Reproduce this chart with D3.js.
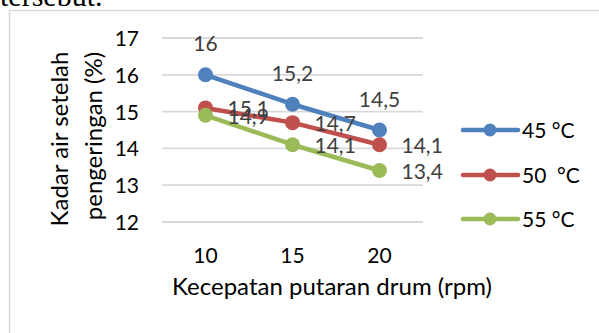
<!DOCTYPE html>
<html>
<head>
<meta charset="utf-8">
<script src="https://cdn.jsdelivr.net/npm/d3@7"></script>
<style>
  html, body { margin: 0; padding: 0; background: #fff; }
  svg { display: block; }
</style>
</head>
<body>
<svg id="chart" width="599" height="333"></svg>
<script>
// Drum speed categories (rpm) and moisture content series (%)
const categories = ["10", "15", "20"];
const seriesNames = ["45 °C", "50  °C", "55 °C"];
const values45 = [16, 15.2, 14.5];
const values50 = [15.1, 14.7, 14.1];
const values55 = [14.9, 14.1, 13.4];
const yTicks = [12, 13, 14, 15, 16, 17];
const colors = ["#4f81bd", "#c0504d", "#9bbb59"];

const series = [
  { name: seriesNames[0], values: values45, color: colors[0], labelPos: "above" },
  { name: seriesNames[1], values: values50, color: colors[1], labelPos: "right" },
  { name: seriesNames[2], values: values55, color: colors[2], labelPos: "right" }
];

const svg = d3.select("#chart");
const font = "Lato, 'Open Sans', sans-serif";
const fmt = v => String(v).replace(".", ",");

// Trailing text line from the surrounding document
svg.append("text")
  .attr("x", 0).attr("y", 6)
  .attr("font-family", "'Liberation Serif', serif")
  .attr("font-size", 30)
  .attr("fill", "#000")
  .text("tersebut.");

// Chart frame
svg.append("rect")
  .attr("x", 9.5).attr("y", 10.5)
  .attr("width", 620).attr("height", 340)
  .attr("fill", "none")
  .attr("stroke", "#d9d9d9")
  .attr("stroke-width", 1.5);

const x = d3.scaleBand().domain(categories).range([162, 423]);
const y = d3.scaleLinear().domain([12, 17]).range([222, 38]);
const cx = c => x(c) + x.bandwidth() / 2;

// Horizontal gridlines
svg.append("g")
  .selectAll("line")
  .data(yTicks)
  .join("line")
  .attr("x1", 162).attr("x2", 423)
  .attr("y1", d => y(d)).attr("y2", d => y(d))
  .attr("stroke", "#d9d9d9")
  .attr("stroke-width", 1.8);

// Y axis tick labels
const yAxis = d3.axisLeft(y).tickValues(yTicks).tickSize(0).tickPadding(0).tickFormat(d => d);
svg.append("g")
  .attr("transform", "translate(139,0)")
  .call(yAxis)
  .call(g => g.select(".domain").remove())
  .call(g => g.selectAll("text")
    .attr("font-family", font).attr("font-size", 21).attr("fill", "#000")
    .attr("dy", "0.36em"));

// X axis tick labels
const xAxis = d3.axisBottom(x).tickSize(0).tickPadding(0);
svg.append("g")
  .attr("transform", "translate(0,255)")
  .call(xAxis)
  .call(g => g.select(".domain").remove())
  .call(g => g.selectAll("text")
    .attr("font-family", font).attr("font-size", 21).attr("fill", "#000")
    .attr("y", 0).attr("dy", "0.36em"));

// Axis titles
svg.append("text")
  .attr("x", 332).attr("y", 295)
  .attr("text-anchor", "middle")
  .attr("font-family", font).attr("font-size", 24).attr("fill", "#000")
  .text("Kecepatan putaran drum (rpm)");

svg.append("text")
  .attr("transform", "translate(68,139) rotate(-90)")
  .attr("text-anchor", "middle")
  .attr("font-family", font).attr("font-size", 24).attr("fill", "#000")
  .text("Kadar air setelah");

svg.append("text")
  .attr("transform", "translate(102,136) rotate(-90)")
  .attr("text-anchor", "middle")
  .attr("font-family", font).attr("font-size", 24).attr("fill", "#000")
  .text("pengeringan (%)");

// Lines and markers
const line = d3.line().x((d, i) => cx(categories[i])).y(d => y(d));
series.forEach(s => {
  const g = svg.append("g");
  g.append("path")
    .attr("d", line(s.values))
    .attr("fill", "none")
    .attr("stroke", s.color)
    .attr("stroke-width", 4.5)
    .attr("stroke-linejoin", "round")
    .attr("stroke-linecap", "round");
  g.selectAll("circle")
    .data(s.values)
    .join("circle")
    .attr("cx", (d, i) => cx(categories[i]))
    .attr("cy", d => y(d))
    .attr("r", 7.5)
    .attr("fill", s.color);
});

// Data labels
series.forEach(s => {
  svg.append("g")
    .selectAll("text")
    .data(s.values)
    .join("text")
    .attr("x", (d, i) => s.labelPos === "above" ? cx(categories[i]) : cx(categories[i]) + 22)
    .attr("y", d => s.labelPos === "above" ? y(d) - 31 : y(d) + 1)
    .attr("dy", "0.36em")
    .attr("text-anchor", s.labelPos === "above" ? "middle" : "start")
    .attr("font-family", font).attr("font-size", 21).attr("fill", "#404040")
    .text(d => fmt(d));
});

// Legend
const legend = svg.append("g");
const legendY = [130, 175, 219];
series.forEach((s, i) => {
  const g = legend.append("g").attr("transform", `translate(0,${legendY[i]})`);
  g.append("line")
    .attr("x1", 463).attr("x2", 518)
    .attr("stroke", s.color).attr("stroke-width", 4.5)
    .attr("stroke-linecap", "round");
  g.append("circle").attr("cx", 490).attr("cy", 0).attr("r", 6.5).attr("fill", s.color);
  g.append("text")
    .attr("x", 522).attr("dy", "0.36em")
    .attr("font-family", font).attr("font-size", 21).attr("fill", "#000")
    .attr("xml:space", "preserve")
    .style("white-space", "pre")
    .text(s.name);
});
</script>
</body>
</html>
